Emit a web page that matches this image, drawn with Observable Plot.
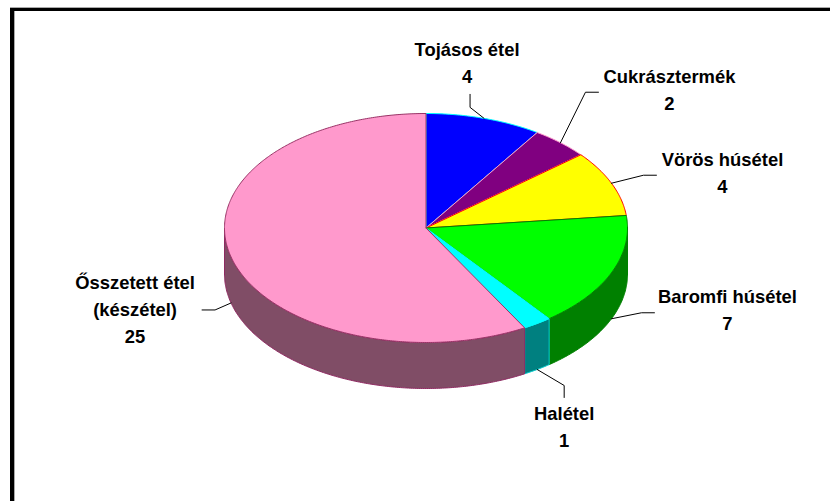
<!DOCTYPE html>
<html>
<head>
<meta charset="utf-8">
<script src="https://cdn.jsdelivr.net/npm/d3@7"></script>
<script src="https://cdn.jsdelivr.net/npm/@observablehq/plot@0.6"></script>
<style>
html,body{margin:0;padding:0;background:#fff;overflow:hidden;width:830px;height:501px}
#f1{position:absolute;left:10px;top:7px;width:900px;height:600px;border-top:1px solid #aaa}
#f2{width:100%;height:100%;border-top:3px solid #000;border-left:4px solid #000}
#f3{width:100%;height:100%;border-left:1px solid #aaa}
#chart{position:absolute;left:0;top:0}
svg{background:transparent!important;display:block}
</style>
</head>
<body>
<div id="f1"><div id="f2"><div id="f3"></div></div></div>
<div id="chart"></div>
<script>
const labelNames = ["Tojásos étel","Cukrásztermék","Vörös húsétel","Baromfi húsétel","Halétel","Ősszetett étel\n(készétel)"];
const values = [4,2,4,7,1,25];
const topColors = ["#0000ff","#800080","#ffff00","#00ff00","#00ffff","#ff99cc"];
const edgeColors = ["#00ffff","#ff99cc","#ff0000","#008000","#00ffff","#993366"];
const sideColors = ["#000080","#400040","#808000","#008000","#008080","#804d66"];
const sideEdges = ["#000080","#400040","#808000","#008000","#00cccc","#8f2a62"];

// layout (pixels)
const W = 830, H = 501, cx = 425.5, cy = 227.5, rx = 201.5, ry = 114.5, depth = 46;
const leaderOffsets = [
  [[-14,-11],[-14,-24]],
  [[25,-50.5],[38,-50.5]],
  [[32,-8],[45,-8]],
  [[30,-6],[43,-6]],
  [[27,16],[27,28]],
  [[-16,7],[-29,7]]
];
const labelOffsets = [[-17,-57.5],[109,-54.5],[111,-12],[116,-11],[27,55.5],[-96,4]];

const total = d3.sum(values);
const cum = d3.cumsum(values);
const startA = i => (i ? cum[i-1] : 0) / total * 2 * Math.PI;
const endA = i => cum[i] / total * 2 * Math.PI;
const rim = (a, drop = 0) => ({x: Math.sin(a), y: Math.cos(a) - drop / ry});
const arc = (a0, a1, drop = 0) => {
  const n = Math.max(2, Math.ceil((a1 - a0) / 0.01));
  return d3.range(n + 1).map(k => rim(a0 + (a1 - a0) * k / n, drop));
};
const px = (p, o) => ({x: p.x + o[0] / rx, y: p.y - o[1] / ry});

const marks = [];
// side walls (front half only)
values.forEach((v, i) => {
  const a0 = Math.max(startA(i), Math.PI / 2), a1 = Math.min(endA(i), 1.5 * Math.PI);
  if (a1 <= a0) return;
  const pts = [...arc(a0, a1), ...arc(a0, a1, depth).reverse()];
  pts.push(pts[0]);
  marks.push(Plot.line(pts, {x: "x", y: "y", fill: sideColors[i], stroke: sideEdges[i], strokeWidth: 1}));
});
// top faces
values.forEach((v, i) => {
  const pts = [{x: 0, y: 0}, ...arc(startA(i), endA(i)), {x: 0, y: 0}];
  marks.push(Plot.line(pts, {x: "x", y: "y", fill: topColors[i], stroke: edgeColors[i], strokeWidth: 1}));
});
// leaders and labels
values.forEach((v, i) => {
  const mid = (startA(i) + endA(i)) / 2;
  const front = Math.cos(mid) < 0;
  const anchor = rim(mid, front ? depth : 0);
  const line = [anchor, ...leaderOffsets[i].map(o => px(anchor, o))];
  marks.push(Plot.line(line, {x: "x", y: "y", stroke: "#000", strokeWidth: 1}));
  const p = px(anchor, labelOffsets[i]);
  marks.push(Plot.text([{...p, t: labelNames[i] + "\n" + v}], {
    x: "x", y: "y", text: "t", fill: "#000", lineHeight: 1.47, lineAnchor: "middle", textAnchor: "middle",
    fontFamily: "Liberation Sans", fontWeight: "bold", fontSize: 18.4
  }));
});

const chart = Plot.plot({
  width: W, height: H, margin: 0,
  x: {axis: null, domain: [-cx / rx, (W - cx) / rx], range: [0, W]},
  y: {axis: null, domain: [cy / ry, (cy - H) / ry], range: [0, H]},
  style: {background: "transparent"},
  marks
});
document.getElementById("chart").appendChild(chart);
</script>
</body>
</html>
